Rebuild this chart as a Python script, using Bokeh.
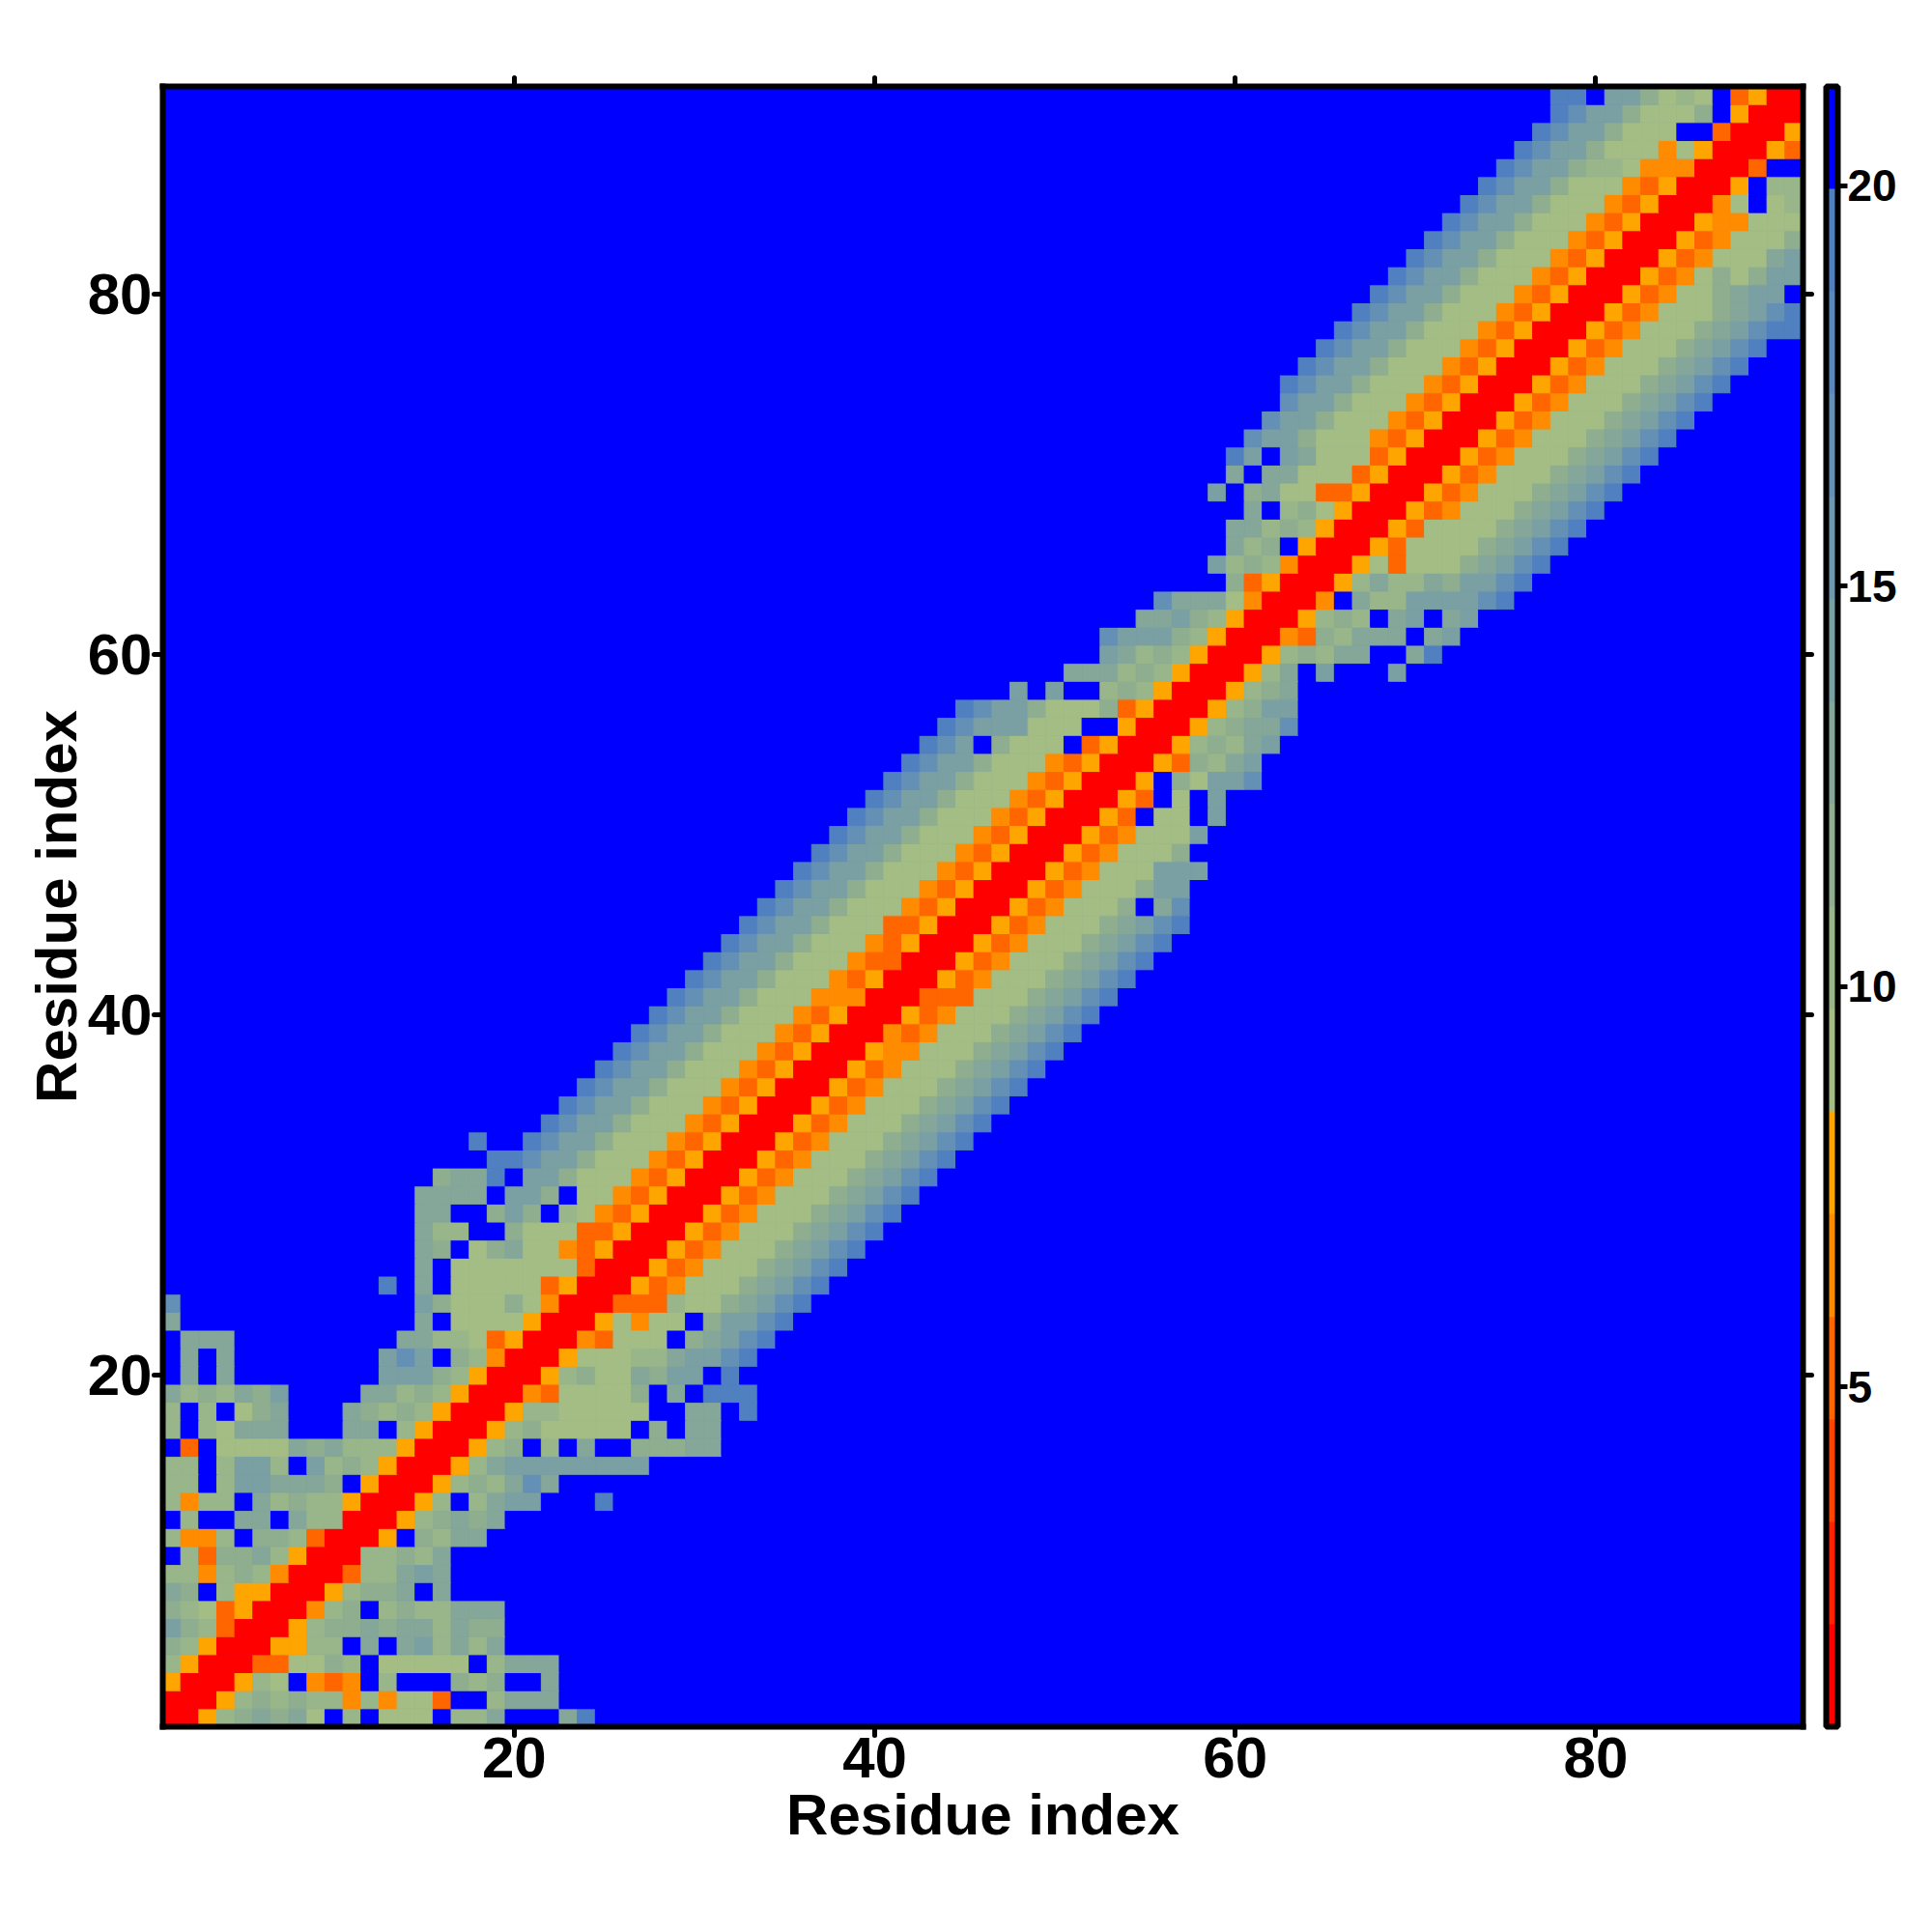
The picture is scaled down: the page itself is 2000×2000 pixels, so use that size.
from bokeh.embed import file_html
from bokeh.resources import INLINE
from bokeh.plotting import figure
from bokeh.models import (ColumnDataSource, LinearColorMapper, Range1d, LinearAxis,
                          FixedTicker, ColorBar)
from bokeh.transform import transform

N_RESIDUES = 91
X_TICKS = [20, 40, 60, 80]
Y_TICKS = [20, 40, 60, 80]
BAR_TICKS = [5, 10, 15, 20]
AXIS_TITLE = "Residue index"
VALUE_LOW = 0.76
VALUE_HIGH = 21.24
PALETTE = ["#ff0000", "#ff2200", "#ff4400", "#ff6600", "#ff8c00", "#ffa500",
           "#a3bd85", "#99b68a", "#8eae8f", "#84a799", "#7aa0a4", "#6f98ae",
           "#6590b5", "#5a88bc", "#5080c0", "#0000ff"]
# leading blue cells, then one level code per residue; the rest of the row is blue
LEVEL_CODES = {"0": 0, "3": 3, "4": 4, "5": 5, "6": 6, "7": 7, "8": 8, "9": 9,
               "a": 10, "b": 12, "c": 14, "f": 15}
ROWS = [
 (0, "005789896f7f666f779fff9c"),
 (0, "0005787877474663ff7999"),
 (0, "5000576f434f7fff878ff9"),
 (0, "75000336687f66666f7999"),
 (0, "8750005577f9f9a7979"),
 (0, "a873000578898997988"),
 (0, "87635000478f7877999"),
 (0, "98f75500057889f9"),
 (0, "77478740003779a9"),
 (0, "f738897500077879"),
 (0, "7447f88730005f8799"),
 (0, "f7ff99f977000578989"),
 (0, "7477f97877500057f79aafffc"),
 (0, "77f7aa9998f500057879b9"),
 (0, "77f7aa7fa7875000579aaaaaaaa"),
 (0, "f3f66669897775000578f7f9ff88899"),
 (0, "7f76999fff99f7500057866666f8f99"),
 (0, "7f7f689fff98787500057766666ff99fc"),
 (0, "978798affff9978750004366668f9fccc"),
 (0, "f9f9ffffffffaaa8750005786698aafc"),
 (0, "f9f9ffffffffabaf874000566677 9aabc".replace(" ", "")),
 (0, "f999fffffffff997763500043666f89abc"),
 (0, "9fffffffffffff9f6666500056466f8aabc"),
 (0, "bfffffffffffffa866686400033376689abc"),
 (12, "cf9f6666635000534666 89abc".replace(" ", "")),
 (14, "9f6666666300053466689abc"),
 (14, "98f6896643500053466689abc"),
 (14, "977ff866633500053466689abc"),
 (14, "99ff8a8f7643500053466689abc"),
 (14, "9999faa8f6643500053466689abc"),
 (15, "899cfaa866643500053466689abc"),
 (18, "ccbaa866643500053466689abc"),
 (17, "cffcbaa866643500053466689abc"),
 (21, "cbaa866643500053466689abc"),
 (22, "cbaa866643500053466689abc"),
 (23, "cbaa866643500053466689abc"),
 (24, "cbaa866643500053466689abc"),
 (25, "cbaa866643500054466689abc"),
 (26, "cbaa866643500043466689abc"),
 (27, "cbaa866643500053466689abc"),
 (28, "cbaa866644400033366689abc"),
 (29, "cbaa866643500053466689abc"),
 (30, "cbaa866643300053466689abc"),
 (31, "cbaa866643500053466689abc"),
 (32, "cbaa866633500053466689abc"),
 (33, "cbaa86664350005346668f9b"),
 (34, "cbaa86664350005346668aa"),
 (35, "cbaa8666435000534666aaa"),
 (36, "cbaa86664350005346668"),
 (37, "cbaa8666435000534666a"),
 (38, "cbaa866643500053f66fa"),
 (39, "cbaa866643500053f6fa"),
 (40, "cbaa86664350005f86aab"),
 (41, "cbaa866643500053879a"),
 (42, "cbaf8666f3500057879a"),
 (43, "cbaaa666ff500057899b"),
 (44, "cbaa8666835000578aa"),
 (47, "afaff78750005789"),
 (50, "9997875000579fafffa"),
 (52, "a97875000578799ff9c"),
 (52, "baaa8750004387999f9a"),
 (54, "99a8750005787f9af9a"),
 (55, "b999640004f977aaaabc"),
 (59, "8350005797798aabc"),
 (58, "a787400056366689abc"),
 (59, "978f500053666689abc"),
 (59, "99787500053666689abc"),
 (60, "9f786500053466689abc"),
 (58, "af896633500053466689abc"),
 (59, "9f996663500053466689abc"),
 (59, "cafa96663500053466689abc"),
 (60, "baa866643500053466689abc"),
 (61, "baa866643500053466689abc"),
 (62, "baa866643500053466689abc"),
 (62, "cbaa866643500053466689abc"),
 (63, "cbaa866643500053466689abc"),
 (64, "cbaa866643500053466689abc"),
 (65, "cbaa866643500053466689abcc"),
 (66, "cbaa866643500053466689abc"),
 (67, "cbaa86664350005346689aaf"),
 (68, "cbaa86664350005346868aa"),
 (69, "cbaa86664350005346669a"),
 (70, "cbaa86664350005346668"),
 (71, "cbaa8666435000544666"),
 (72, "cbaa866643500046f67"),
 (73, "cbaa86664350005f77"),
 (74, "cbaa87764440003ff"),
 (75, "cbaa866646500053"),
 (76, "cbaa8666ff30005"),
 (77, "cbaa86668f5000"),
 (77, "ccfaa8676f3500"),
]

step = (VALUE_HIGH - VALUE_LOW) / len(PALETTE)
xs, ys, vals = [], [], []
for r, (skip, codes) in enumerate(ROWS, start=1):
    levels = [15] * skip + [LEVEL_CODES[ch] for ch in codes]
    levels += [15] * (N_RESIDUES - len(levels))
    for c, lev in enumerate(levels[:N_RESIDUES], start=1):
        xs.append(c)
        ys.append(r)
        vals.append(VALUE_LOW + step * (lev + 0.5))

mapper = LinearColorMapper(palette=PALETTE, low=VALUE_LOW, high=VALUE_HIGH)
src = ColumnDataSource(dict(x=xs, y=ys, v=vals))

p = figure(frame_width=1698, frame_height=1698, output_backend="svg", toolbar_location=None,
           x_range=Range1d(0.5, N_RESIDUES + 0.5), y_range=Range1d(0.5, N_RESIDUES + 0.5),
           min_border_left=168, min_border_top=89, min_border_right=126, min_border_bottom=130,
           background_fill_color="#0000ff", border_fill_color="white")
p.rect("x", "y", width=1, height=1, source=src, fill_color=transform("v", mapper),
       line_color=transform("v", mapper), line_width=1)
p.grid.visible = False
p.outline_line_color = None

FONT = "Liberation Sans"


def style_frame_axis(ax):
    ax.axis_line_color = "black"
    ax.axis_line_width = 6
    ax.axis_line_cap = "square"
    ax.major_tick_line_color = "black"
    ax.major_tick_line_width = 5
    ax.major_tick_line_cap = "round"
    ax.major_tick_out = 9
    ax.major_tick_in = 0
    ax.minor_tick_line_color = None


for ax, ticks in ((p.xaxis[0], X_TICKS), (p.yaxis[0], Y_TICKS)):
    ax.ticker = FixedTicker(ticks=ticks)
    ax.axis_label = AXIS_TITLE
    ax.axis_label_text_font = FONT
    ax.axis_label_text_font_style = "bold"
    ax.axis_label_text_font_size = "60px"
    ax.axis_label_text_color = "black"
    ax.major_label_text_font = FONT
    ax.major_label_text_font_style = "bold"
    ax.major_label_text_font_size = "60px"
    ax.major_label_text_color = "black"
    style_frame_axis(ax)
    ax.major_label_standoff = 2
p.xaxis[0].axis_label_standoff = 2
p.yaxis[0].axis_label_standoff = -4

for side in ("above", "right"):
    ax = LinearAxis(ticker=FixedTicker(ticks=X_TICKS),
                    major_label_overrides={t: "" for t in X_TICKS},
                    major_label_standoff=0)
    style_frame_axis(ax)
    p.add_layout(ax, side)

cb = ColorBar(color_mapper=mapper, ticker=FixedTicker(ticks=BAR_TICKS), width=12, height=1698,
              bar_line_color="black", bar_line_width=6, major_tick_line_color="black",
              major_tick_line_width=5, major_tick_in=0, major_tick_out=10, minor_tick_line_color=None,
              major_label_text_font=FONT, major_label_text_font_style="bold",
              major_label_text_font_size="46px", major_label_text_color="black",
              label_standoff=0, margin=0, padding=0, location=(15, 0), background_fill_color=None,
              border_line_color=None, title=None)
p.add_layout(cb, "right")

open("out.html", "w").write(file_html(p, INLINE))
